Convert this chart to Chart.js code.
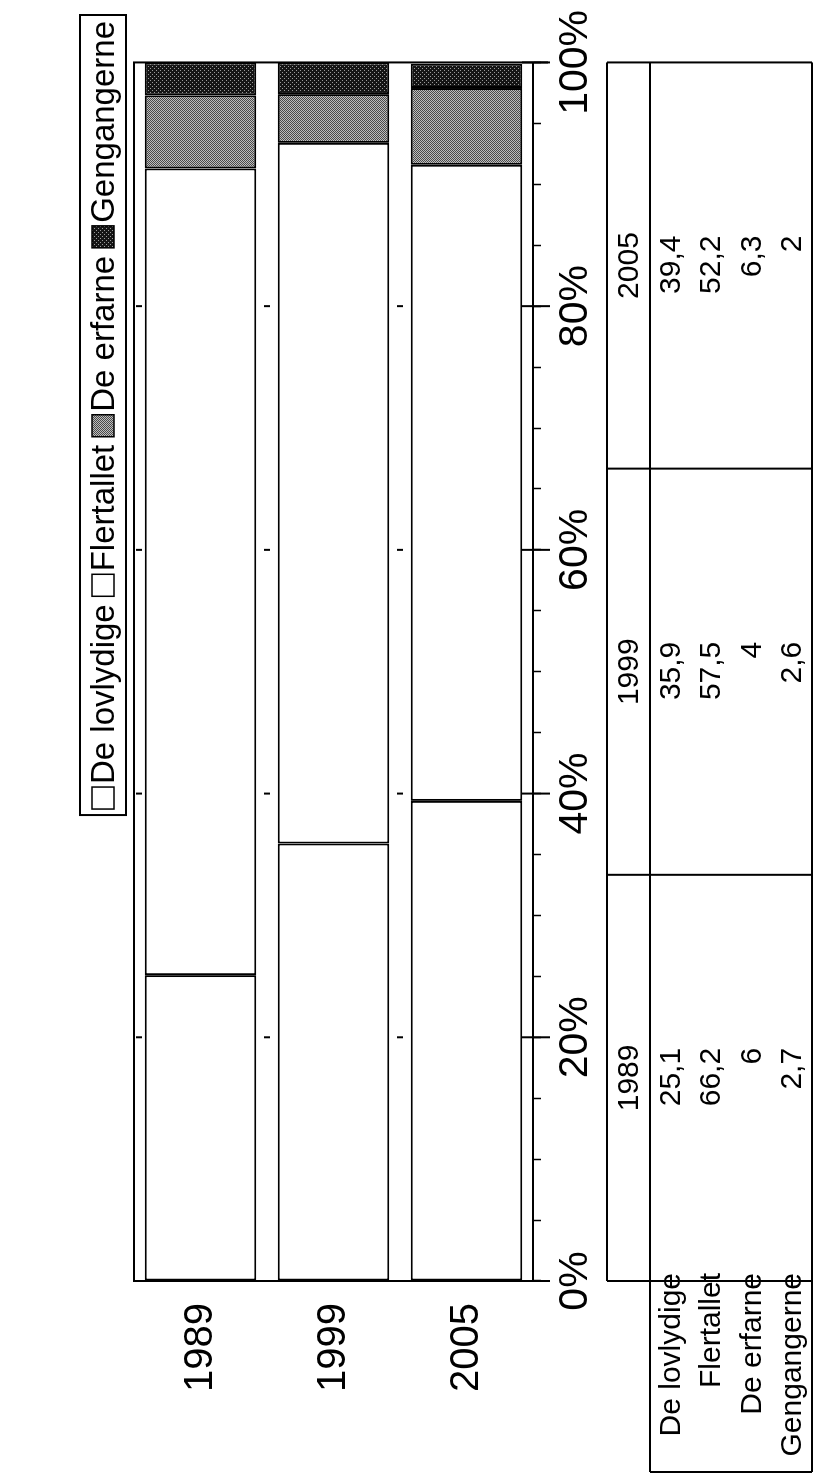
<!DOCTYPE html>
<html>
<head>
<meta charset="utf-8">
<script src="https://cdn.jsdelivr.net/npm/chart.js@4.4.1/dist/chart.umd.min.js"></script>
<style>
html, body { margin: 0; padding: 0; background: #fff; overflow: hidden; }
#wrap { position: absolute; left: 0; top: 0; width: 1483px; height: 813px;
        transform-origin: 0 0; transform: translateY(1483px) rotate(-90deg); }
</style>
</head>
<body>
<div id="wrap"><canvas id="myChart" width="1483" height="813"></canvas></div>
<script>
'use strict'
let years = ['1989', '1999', '2005'];
let groupNames = ['De lovlydige', 'Flertallet', 'De erfarne', 'Gengangerne'];
let lovlydige = [25.1, 35.9, 39.4];
let flertallet = [66.2, 57.5, 52.2];
let erfarne = [6, 4, 6.3];
let gengangerne = [2.7, 2.6, 2];
let tickLabels = ['0%', '20%', '40%', '60%', '80%', '100%'];

let fontFam = "'Liberation Sans', Arial, sans-serif";

function makePattern(base, dot, spots) {
  let c = document.createElement('canvas');
  c.width = 4; c.height = 4;
  let g = c.getContext('2d');
  g.fillStyle = base;
  g.fillRect(0, 0, 4, 4);
  g.fillStyle = dot;
  spots.forEach(p => g.fillRect(p[0], p[1], 1, 1));
  return g.createPattern(c, 'repeat');
}

let grayPat = makePattern('#bdbdbd', '#4a4a4a', [[0,0],[2,0],[1,1],[3,1],[0,2],[2,2],[1,3],[3,3]]);
let darkPat = makePattern('#151515', '#9a9a9a', [[0,0],[2,2]]);

let fills = ['#ffffff', '#ffffff', grayPat, darkPat];
let series = [lovlydige, flertallet, erfarne, gengangerne];

let datasets = [];
for (let i = 0; i < series.length; i++) {
  datasets.push({
    label: groupNames[i],
    data: series[i],
    backgroundColor: fills[i],
    borderColor: '#000',
    borderWidth: 2,
    borderSkipped: false,
    barPercentage: 0.84,
    categoryPercentage: 1
  });
}

function fmt(n) {
  return String(n).replace('.', ',');
}

// frame round the plot, long major ticks, little grid dashes in the gaps
let framePlugin = {
  id: 'frame',
  afterDatasetsDraw(chart) {
    let a = chart.chartArea;
    let ctx = chart.ctx;
    let xs = chart.scales.x;
    let bars = chart.getDatasetMeta(0).data;
    let gapMids = [a.top + 5];
    for (let i = 0; i < bars.length - 1; i++) {
      gapMids.push((bars[i].y + bars[i + 1].y) / 2);
    }
    ctx.save();
    ctx.strokeStyle = '#000';
    ctx.lineWidth = 2;
    ctx.beginPath();
    ctx.moveTo(a.left, a.top);
    ctx.lineTo(a.right, a.top);
    ctx.lineTo(a.right, a.bottom + 15);
    ctx.stroke();

    ctx.beginPath();
    xs.ticks.forEach(t => {
      if (t.value % 20 !== 0) return;
      let px = xs.getPixelForValue(t.value);
      ctx.moveTo(px, a.bottom - 11);
      ctx.lineTo(px, a.bottom + 17);
      if (t.value === 0 || t.value === 100) return;
      gapMids.forEach(m => { ctx.moveTo(px, m - 3); ctx.lineTo(px, m + 3); });
    });
    ctx.stroke();
    ctx.restore();
  }
};

// legend in a box
let boxLegend = {
  id: 'boxLegend',
  afterDraw(chart) {
    let ctx = chart.ctx;
    let top = 80, h = 46, right = 1468;
    let sym = 22, gapT = 3, gapI = 8, pad = 6;
    ctx.save();
    ctx.font = '33px ' + fontFam;
    let widths = groupNames.map(n => ctx.measureText(n).width);
    let total = pad * 2;
    widths.forEach((w, i) => { total += sym + gapT + w + (i < widths.length - 1 ? gapI : 0); });
    let left = right - total;
    ctx.strokeStyle = '#000';
    ctx.lineWidth = 2;
    ctx.strokeRect(left, top, total, h);
    let x = left + pad;
    let mid = top + h / 2;
    ctx.textBaseline = 'middle';
    ctx.textAlign = 'left';
    for (let i = 0; i < groupNames.length; i++) {
      ctx.fillStyle = fills[i];
      ctx.fillRect(x, mid - sym / 2, sym, sym);
      ctx.lineWidth = 1.5;
      ctx.strokeRect(x, mid - sym / 2, sym, sym);
      ctx.fillStyle = '#000';
      ctx.fillText(groupNames[i], x + sym + gapT, mid + 2);
      x += sym + gapT + widths[i] + gapI;
    }
    ctx.restore();
  }
};

// data table under the chart
let dataTable = {
  id: 'dataTable',
  afterDraw(chart) {
    let a = chart.chartArea;
    let ctx = chart.ctx;
    let colW = (a.right - a.left) / years.length;
    let headTop = 607, rowsTop = 650, bottom = 812, labelLeft = 11;
    let rowH = (bottom - rowsTop) / series.length;
    ctx.save();
    ctx.strokeStyle = '#000';
    ctx.lineWidth = 2;
    ctx.beginPath();
    ctx.moveTo(a.left, headTop); ctx.lineTo(a.right, headTop);
    ctx.moveTo(labelLeft, rowsTop); ctx.lineTo(a.right, rowsTop);
    ctx.moveTo(labelLeft, bottom); ctx.lineTo(a.right, bottom);
    ctx.moveTo(labelLeft, rowsTop); ctx.lineTo(labelLeft, bottom);
    for (let c = 0; c <= years.length; c++) {
      let x = a.left + c * colW;
      ctx.moveTo(x, headTop); ctx.lineTo(x, bottom);
    }
    ctx.stroke();

    ctx.fillStyle = '#000';
    ctx.font = '30px ' + fontFam;
    ctx.textBaseline = 'middle';
    for (let c = 0; c < years.length; c++) {
      let cx = a.left + (c + 0.5) * colW;
      ctx.textAlign = 'center';
      ctx.fillText(years[c], cx, (headTop + rowsTop) / 2 + 1);
      ctx.textAlign = 'right';
      for (let r = 0; r < series.length; r++) {
        ctx.fillText(fmt(series[r][c]), cx + 30, rowsTop + (r + 0.5) * rowH + 1);
      }
    }
    ctx.textAlign = 'right';
    for (let r = 0; r < series.length; r++) {
      ctx.fillText(groupNames[r], a.left + 8, rowsTop + (r + 0.5) * rowH + 1);
    }
    ctx.restore();
  }
};

let ctx = document.getElementById('myChart').getContext('2d');
let chart = new Chart(ctx, {
  type: 'bar',
  data: {
    labels: years,
    datasets: datasets
  },
  options: {
    indexAxis: 'y',
    responsive: false,
    animation: false,
    devicePixelRatio: 1,
    layout: { padding: { top: 134, right: 56, left: 0, bottom: 0 } },
    plugins: {
      legend: { display: false },
      tooltip: { enabled: false }
    },
    scales: {
      x: {
        stacked: true,
        min: 0,
        max: 100,
        ticks: {
          stepSize: 5,
          autoSkip: false,
          maxRotation: 0,
          color: '#000',
          padding: 10,
          font: { family: fontFam, size: 41 },
          callback: v => (v % 20 === 0 ? tickLabels[v / 20] : '')
        },
        grid: {
          drawOnChartArea: false,
          tickColor: '#000',
          tickLength: 8,
          tickWidth: 1.5
        },
        border: { color: '#000', width: 2 },
        afterFit: s => { s.height = 280; }
      },
      y: {
        stacked: true,
        ticks: {
          color: '#000',
          padding: 22,
          font: { family: fontFam, size: 40 }
        },
        grid: { display: false, drawTicks: false },
        border: { display: true, color: '#000', width: 2 },
        afterFit: s => { s.width = 202; }
      }
    }
  },
  plugins: [framePlugin, boxLegend, dataTable]
});
</script>
</body>
</html>
